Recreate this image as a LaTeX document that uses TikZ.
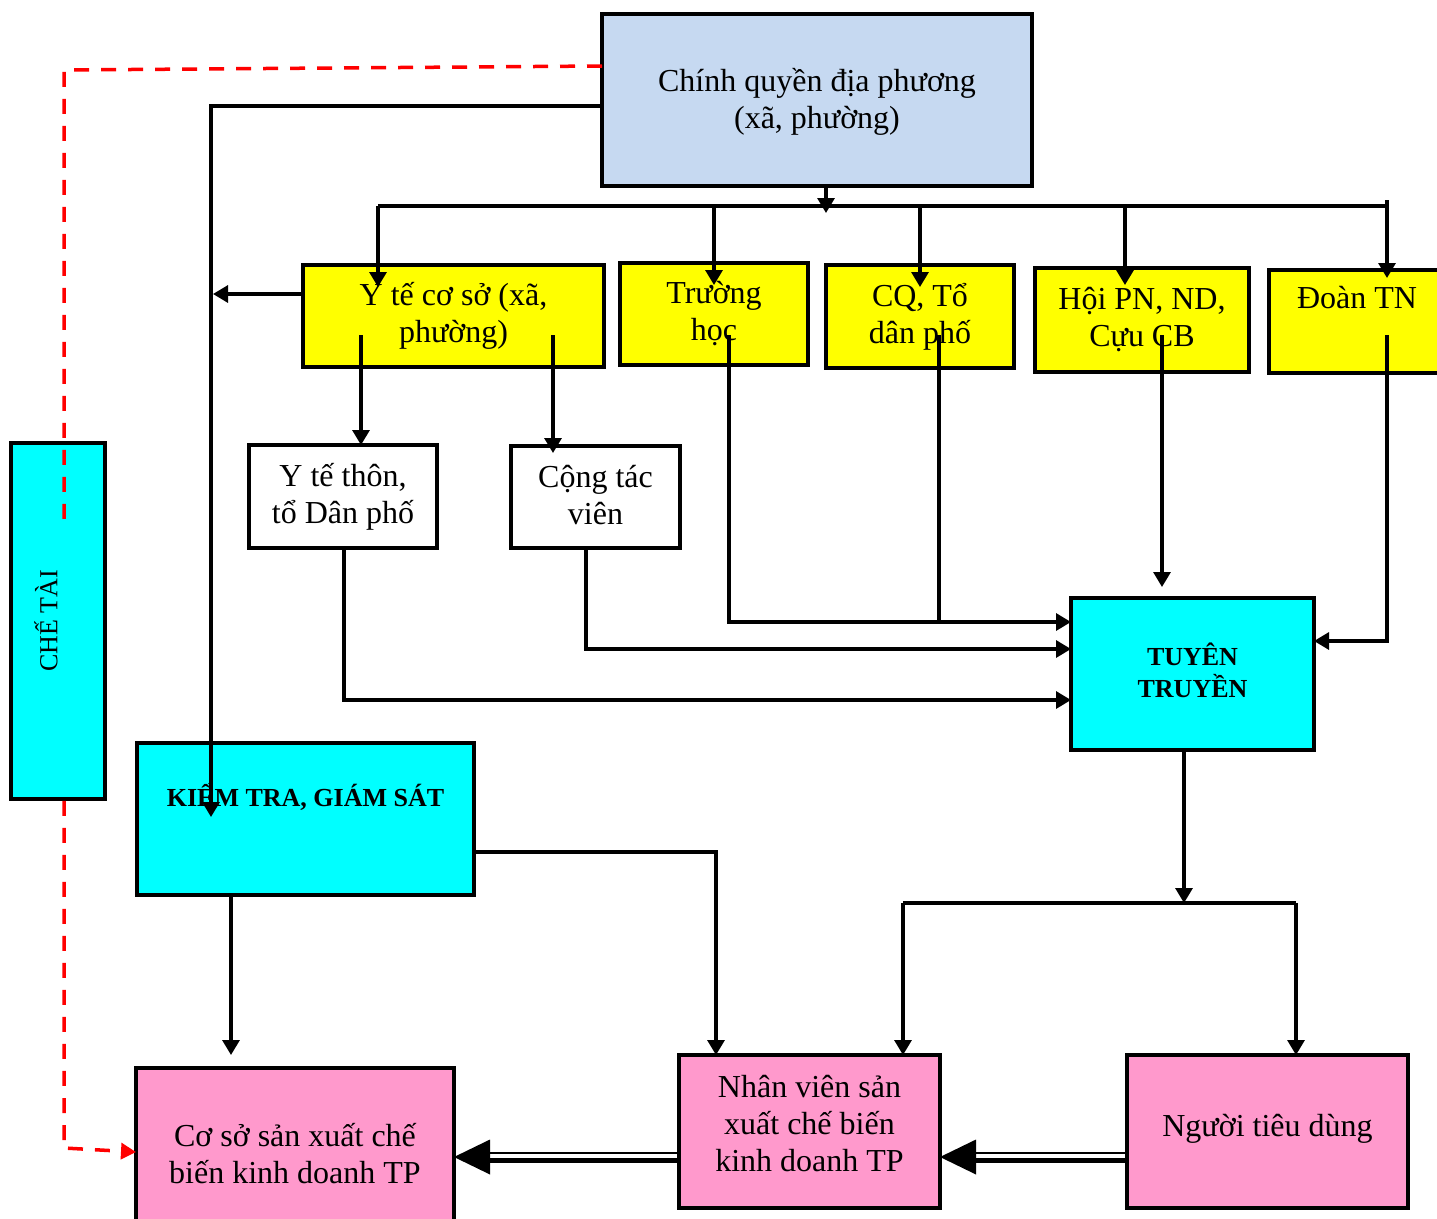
\documentclass[tikz,border=0pt]{standalone}
\usepackage{fontspec}
\setmainfont{Liberation Serif}
\usetikzlibrary{arrows.meta,calc}

\definecolor{govblue}{HTML}{C6D9F1}
\definecolor{unityellow}{HTML}{FFFF00}
\definecolor{keycyan}{HTML}{00FFFF}
\definecolor{targetpink}{HTML}{FF99CC}

% raise a block of centred lines without changing the box it occupies
\newcommand{\liftlines}[2]{\raisebox{#1}[\height][\depth]{\begin{tabular}{@{}c@{}}#2\end{tabular}}}

\tikzset{
  box/.style={draw, line width=3.5pt, inner sep=0pt, outer sep=0pt, align=center,
    font=\fontsize{32}{37}\selectfont},
  govbox/.style={box, fill=govblue},
  unitbox/.style={box, fill=unityellow},
  plainbox/.style={box, fill=white},
  keybox/.style={box, fill=keycyan, font=\fontsize{26}{30}\bfseries\selectfont},
  targetbox/.style={box, fill=targetpink},
  link/.style={line width=3.2pt, -{Triangle[length=15pt,width=17pt]}},
  plainlink/.style={line width=3.2pt},
  sanction/.style={red, line width=3.5pt, dash pattern=on 15pt off 12pt,
    -{Triangle[length=15pt,width=16pt]}},
}

\begin{document}
\begin{tikzpicture}[x=1pt,y=-1pt]
\useasboundingbox (0,0) rectangle (1437,1218);
\fill[white] (0,0) rectangle (1437,1218);

% ---------- boxes ----------
\node[govbox, minimum width=430pt, minimum height=172pt] (gov) at (817,100)
  {\liftlines{-3pt}{Chính quyền địa phương\\(xã, phường)}};

\node[unitbox, minimum width=301pt, minimum height=102pt] (ytcs) at (453.5,316)
  {Y tế cơ sở (xã,\\phường)};
\node[unitbox, minimum width=188pt, minimum height=102pt] (truong) at (714,314)
  {Trường\\học};
\node[unitbox, minimum width=188pt, minimum height=103pt] (cq) at (920,316.5)
  {CQ, Tổ\\dân phố};
\node[unitbox, minimum width=214pt, minimum height=104pt] (hoi) at (1142,320)
  {Hội PN, ND,\\Cựu CB};
\node[unitbox, minimum width=176pt, minimum height=103pt] (doan) at (1357,321.5)
  {Đoàn TN\\\strut};

\node[plainbox, minimum width=188pt, minimum height=103pt] (ytt) at (343,496.5)
  {Y tế thôn,\\tổ Dân phố};
\node[plainbox, minimum width=169pt, minimum height=102pt] (ctv) at (595.5,497)
  {\liftlines{-2pt}{Cộng tác\\viên}};

\node[keybox, minimum width=243pt, minimum height=152pt] (tuyen) at (1192.5,674)
  {\liftlines{-1pt}{TUYÊN\\TRUYỀN}};
\node[keybox, minimum width=337pt, minimum height=152pt,
      font=\fontsize{26}{37}\bfseries\selectfont] (kiem) at (305.5,819)
  {KIỂM TRA, GIÁM SÁT\\\strut};

\node[targetbox, minimum width=318pt, minimum height=172pt] (coso) at (295,1154)
  {Cơ sở sản xuất chế\\biến kinh doanh TP};
\node[targetbox, minimum width=261pt, minimum height=153pt] (nv) at (809.5,1131.5)
  {\liftlines{4pt}{Nhân viên sản\\xuất chế biến\\kinh doanh TP}};
\node[targetbox, minimum width=281pt, minimum height=153pt] (ntd) at (1267.5,1131.5)
  {\liftlines{2pt}{Người tiêu dùng}};

\node[keybox, rotate=90, minimum width=356pt, minimum height=94pt,
      font=\fontsize{26}{30}\selectfont] (chetai) at (58,621)
  {\raisebox{12pt}[\height][\depth]{CHẾ TÀI}};

% ---------- sanction route (dashed, red) ----------
\coordinate (dashA) at ($(gov.north west)+(0,52)$);
\coordinate (dashB) at (64,70);
\coordinate (dashC) at (64,1148);
\begin{scope}
  \clip (0,0) rectangle (1437,528) (0,797) rectangle (1437,1218);
  \draw[sanction] (dashA) -- (dashB) -- (dashC) -- ($(coso.west)+(0,-2)$);
\end{scope}

% ---------- distribution bus under the local government ----------
\coordinate (hub)  at (826,213);
\coordinate (busW) at (378,206);
\coordinate (busE) at (1387,206);
\coordinate (busT) at (714,206);
\coordinate (busC) at (920,206);
\coordinate (busH) at (1125,206);
\draw[link] (hub |- gov.south) -- (hub);
\draw[plainlink] (busW) -- (busE) -- ++(0,-6);
\draw[link] (busW) -- ($(ytcs.north -| busW)+(0,22)$);
\draw[link] (busT) -- ($(truong.north -| busT)+(0,22)$);
\draw[link] (busC) -- ($(cq.north -| busC)+(0,22)$);
\draw[link] (busH) -- ($(hoi.north -| busH)+(0,17)$);
\draw[link] (busE) -- ($(doan.north -| busE)+(0,8)$);

% ---------- government to inspection ----------
\draw[link] ($(gov.west)+(0,6)$) -| ($(kiem.north west)+(74,74)$);
\draw[link] ($(ytcs.west)+(0,-22)$) -- ++(-90,0);

% ---------- grassroots health ----------
\coordinate (ytcsL) at (361,335);
\coordinate (ytcsR) at (553,335);
\draw[link] (ytcsL) -- (ytcsL |- ytt.north);
\draw[link] (ytcsR) -- ($(ytcsR |- ctv.north)+(0,7)$);

% ---------- feeds into communication ----------
\coordinate (row1) at ($(tuyen.north west)+(0,24)$);
\coordinate (row2) at ($(tuyen.north west)+(0,51)$);
\coordinate (row3) at ($(tuyen.north west)+(0,102)$);
\coordinate (truongF) at (729,335);
\coordinate (cqF) at (939,335);
\coordinate (hoiF) at (1162,335);
\coordinate (doanF) at (1387,335);
\coordinate (ctvF) at ($(ctv.south)+(-9.5,0)$);
\coordinate (yttF) at ($(ytt.south)+(1,0)$);
\draw[link] (truongF) |- (row1);
\draw[plainlink] (cqF) -- (cqF |- row1);
\draw[link] (ctvF) |- (row2);
\draw[link] (yttF) |- (row3);
\draw[link] (hoiF) -- ($(tuyen.north -| hoiF)+(0,-11)$);
\draw[link] (doanF) |- ($(tuyen.north east)+(0,43)$);

% ---------- communication to staff and consumers ----------
\coordinate (split)  at (1184,903);
\coordinate (splitW) at (903,903);
\coordinate (splitE) at (1296,903);
\draw[link] (tuyen.south -| split) -- (split);
\draw[plainlink] (splitW) -- (splitE);
\draw[link] (splitW) -- (splitW |- nv.north);
\draw[link] (splitE) -- (splitE |- ntd.north);

% ---------- inspection to producers ----------
\coordinate (kiemX) at (231,0);
\draw[link] (kiem.south -| kiemX) -- ($(coso.north -| kiemX)+(0,-13)$);
\draw[link] ($(kiem.east)+(0,33)$) -| ($(nv.north west)+(37,0)$);

% ---------- double arrows along the bottom ----------
\coordinate (dA) at ($(coso.east)+(0,3)$);
\coordinate (dB) at (nv.east |- dA);
\fill (dA) -- ++(36,-17.5) -- ++(0,35) -- cycle;
\draw[line width=1.6pt] ($(dA)+(30,-4)$) -- ($(nv.west |- dA)+(0,-4)$);
\draw[line width=5pt]   ($(dA)+(30,3)$)  -- ($(nv.west |- dA)+(0,3)$);
\fill (dB) -- ++(36,-17.5) -- ++(0,35) -- cycle;
\draw[line width=1.6pt] ($(dB)+(30,-4)$) -- ($(ntd.west |- dB)+(0,-4)$);
\draw[line width=5pt]   ($(dB)+(30,3)$)  -- ($(ntd.west |- dB)+(0,3)$);
\end{tikzpicture}
\end{document}
